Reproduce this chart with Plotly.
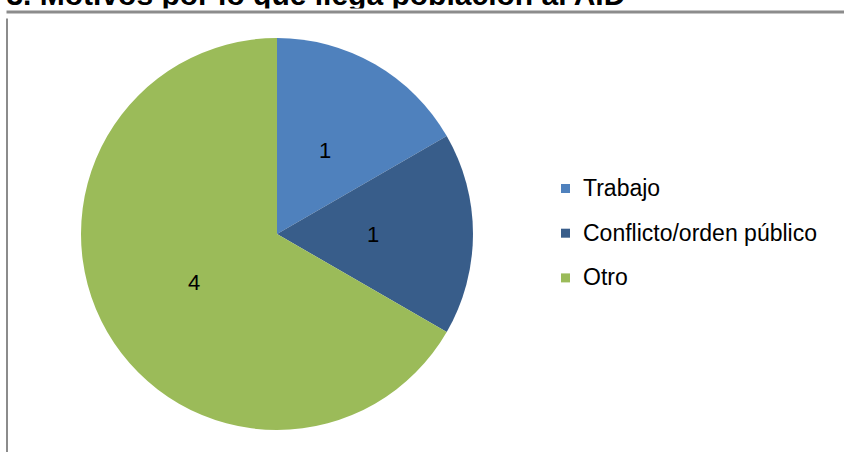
import math
import plotly.graph_objects as go

# Data
categories = ["Trabajo", "Conflicto/orden público", "Otro"]
counts = [1, 1, 4]
colors = ["#4F81BD", "#385D8A", "#9BBB59"]
title_text = "Gráfica 4-3. Motivos por lo que llega población al AID"

W, H = 844, 452
FONT = "Arial, 'Liberation Sans', sans-serif"
FRAME = "#8C8C8C"


def px_x(x):
    return x / W


def px_y(y):
    return 1 - y / H


# Pie geometry (pixels)
cx, cy, r = 277, 234, 196

fig = go.Figure(
    go.Pie(
        labels=categories,
        values=counts,
        marker=dict(colors=colors, line=dict(width=0)),
        sort=False,
        direction="clockwise",
        rotation=0,
        textinfo="none",
        hoverinfo="label+value",
        showlegend=False,
        domain=dict(
            x=[px_x(cx - r), px_x(cx + r)],
            y=[px_y(cy + r), px_y(cy - r)],
        ),
    )
)

annotations = []
shapes = []

# Value labels at half radius on each slice's bisector
total = sum(counts)
start = 0.0
for v in counts:
    mid = (start + v / 2) / total * 2 * math.pi  # clockwise from 12 o'clock
    start += v
    lx = cx + 0.49 * r * math.sin(mid)
    ly = cy - 0.49 * r * math.cos(mid)
    annotations.append(dict(
        text=str(v), xref="paper", yref="paper",
        x=px_x(lx), y=px_y(ly), xanchor="center", yanchor="middle",
        showarrow=False,
        font=dict(family=FONT, size=22, color="#000000"),
    ))

# Title above the chart frame
annotations.append(dict(
    text=f"<b>{title_text}</b>",
    xref="paper", yref="paper",
    x=px_x(627), y=px_y(-24),
    xanchor="right", yanchor="top",
    showarrow=False,
    font=dict(family=FONT, size=30, color="#000000"),
))
# Chart frame top edge: white band hiding the title's lower part, then grey rule
annotations.append(dict(
    text=" ", xref="paper", yref="paper",
    x=0, y=px_y(8), xanchor="left", yanchor="top",
    width=W + 20, height=9, bgcolor="#FFFFFF", borderpad=0,
    showarrow=False, font=dict(size=1),
))
annotations.append(dict(
    text=" ", xref="paper", yref="paper",
    x=px_x(6), y=px_y(9.5), xanchor="left", yanchor="top",
    width=W, height=2, bgcolor=FRAME, borderpad=0,
    showarrow=False, font=dict(size=1),
))
# Left edge of the frame
shapes.append(dict(
    type="line", xref="paper", yref="paper",
    x0=px_x(7), x1=px_x(7), y0=px_y(10), y1=px_y(H + 5),
    line=dict(color=FRAME, width=2),
))

# Legend
leg_x, leg_y0, leg_dy, box = 561, 188.5, 44.7, 9
for i, (name, col) in enumerate(zip(categories, colors)):
    yc = leg_y0 + i * leg_dy
    shapes.append(dict(
        type="rect", xref="paper", yref="paper",
        x0=px_x(leg_x), x1=px_x(leg_x + box),
        y0=px_y(yc + box / 2), y1=px_y(yc - box / 2),
        fillcolor=col, line=dict(width=0),
    ))
    annotations.append(dict(
        text=name, xref="paper", yref="paper",
        x=px_x(leg_x + box + 11), y=px_y(yc - 0.5),
        xanchor="left", yanchor="middle",
        showarrow=False,
        font=dict(family=FONT, size=23, color="#000000"),
    ))

fig.update_layout(
    width=W, height=H,
    margin=dict(l=0, r=0, t=0, b=0),
    paper_bgcolor="#FFFFFF",
    plot_bgcolor="#FFFFFF",
    annotations=annotations,
    shapes=shapes,
)

fig.write_html("out.html")
